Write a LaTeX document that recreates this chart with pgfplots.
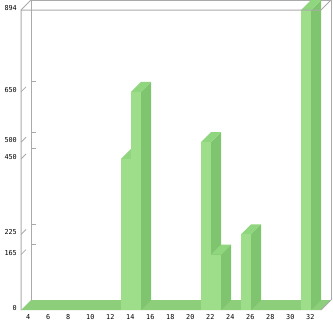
\documentclass[border=0pt]{standalone}
\usepackage{fontspec}
\setmonofont{DejaVu Sans Mono}
\usepackage{pgfplots}
\pgfplotsset{compat=1.18}
\definecolor{frontc}{RGB}{158,222,138}
\definecolor{sidec}{RGB}{127,196,110}
\definecolor{topc}{RGB}{143,214,126}
\definecolor{floorc}{RGB}{140,206,122}
\definecolor{framec}{RGB}{170,170,170}
\begin{document}
\begin{tikzpicture}
\path[use as bounding box] (-21bp,-11bp) rectangle (312bp,310bp);
\begin{axis}[
  at={(0,0)}, anchor=south west,
  scale only axis, width=310bp, height=310bp,
  xmin=3.5, xmax=34.5, ymin=0, ymax=923.8,
  clip=false,
  axis line style={draw=none},
  major tick style={draw=none},
  major tick length=0pt,
  xtick={4,6,...,32},
  ytick={0,165,225,450,500,650,894},
  /pgf/number format/assume math mode=true,
  ticklabel style={font=\ttfamily\fontsize{6.8bp}{8bp}\selectfont, inner sep=0pt},
  xticklabel style={anchor=north west, yshift=-4.6bp},
  yticklabel style={anchor=east, xshift=-4bp, yshift=2bp},
  every axis plot/.append style={mark=none},
]
% back wall frame
\addplot[draw=framec, line width=1bp] coordinates {(4.5,29.8) (4.5,923.8) (34.5,923.8) (34.5,29.8)};
% back wall ticks
\addplot[draw=framec, line width=1bp] coordinates {(4.5,679.8) (5,679.8)};
\addplot[draw=framec, line width=1bp] coordinates {(4.5,529.8) (5,529.8)};
\addplot[draw=framec, line width=1bp] coordinates {(4.5,479.8) (5,479.8)};
\addplot[draw=framec, line width=1bp] coordinates {(4.5,254.8) (5,254.8)};
\addplot[draw=framec, line width=1bp] coordinates {(4.5,194.8) (5,194.8)};
% front-left diagonal ticks
\addplot[draw=framec, line width=0.8bp] coordinates {(3.5,650) (4,664.9)};
\addplot[draw=framec, line width=0.8bp] coordinates {(3.5,500) (4,514.9)};
\addplot[draw=framec, line width=0.8bp] coordinates {(3.5,450) (4,464.9)};
\addplot[draw=framec, line width=0.8bp] coordinates {(3.5,225) (4,239.9)};
\addplot[draw=framec, line width=0.8bp] coordinates {(3.5,165) (4,179.9)};
% floor
\addplot[fill=floorc, draw=none] coordinates {(3.5,0) (33.5,0) (34.5,29.8) (4.5,29.8)} -- cycle;
\addplot[draw=framec, line width=1bp] coordinates {(33.5,0) (34.5,29.8)};
% bar 14 = 450
\addplot[fill=sidec, draw=none] coordinates {(14.5,0) (15.5,29.8) (15.5,479.8) (14.5,450)} -- cycle;
\addplot[fill=topc, draw=none] coordinates {(13.5,450) (14.5,450) (15.5,479.8) (14.5,479.8)} -- cycle;
\addplot[fill=frontc, draw=none] coordinates {(13.5,0) (14.5,0) (14.5,450) (13.5,450)} -- cycle;
% bar 15 = 650
\addplot[fill=sidec, draw=none] coordinates {(15.5,0) (16.5,29.8) (16.5,679.8) (15.5,650)} -- cycle;
\addplot[fill=topc, draw=none] coordinates {(14.5,650) (15.5,650) (16.5,679.8) (15.5,679.8)} -- cycle;
\addplot[fill=frontc, draw=none] coordinates {(14.5,0) (15.5,0) (15.5,650) (14.5,650)} -- cycle;
% bar 22 = 500
\addplot[fill=sidec, draw=none] coordinates {(22.5,0) (23.5,29.8) (23.5,529.8) (22.5,500)} -- cycle;
\addplot[fill=topc, draw=none] coordinates {(21.5,500) (22.5,500) (23.5,529.8) (22.5,529.8)} -- cycle;
\addplot[fill=frontc, draw=none] coordinates {(21.5,0) (22.5,0) (22.5,500) (21.5,500)} -- cycle;
% bar 23 = 165
\addplot[fill=sidec, draw=none] coordinates {(23.5,0) (24.5,29.8) (24.5,194.8) (23.5,165)} -- cycle;
\addplot[fill=topc, draw=none] coordinates {(22.5,165) (23.5,165) (24.5,194.8) (23.5,194.8)} -- cycle;
\addplot[fill=frontc, draw=none] coordinates {(22.5,0) (23.5,0) (23.5,165) (22.5,165)} -- cycle;
% bar 26 = 225
\addplot[fill=sidec, draw=none] coordinates {(26.5,0) (27.5,29.8) (27.5,254.8) (26.5,225)} -- cycle;
\addplot[fill=topc, draw=none] coordinates {(25.5,225) (26.5,225) (27.5,254.8) (26.5,254.8)} -- cycle;
\addplot[fill=frontc, draw=none] coordinates {(25.5,0) (26.5,0) (26.5,225) (25.5,225)} -- cycle;
% bar 32 = 894
\addplot[fill=sidec, draw=none] coordinates {(32.5,0) (33.5,29.8) (33.5,923.8) (32.5,894)} -- cycle;
\addplot[fill=topc, draw=none] coordinates {(31.5,894) (32.5,894) (33.5,923.8) (32.5,923.8)} -- cycle;
\addplot[fill=frontc, draw=none] coordinates {(31.5,0) (32.5,0) (32.5,894) (31.5,894)} -- cycle;
% front frame
\addplot[draw=framec, line width=1bp] coordinates {(3.5,0) (3.5,894) (33.5,894) (34.5,923.8)};
\addplot[draw=framec, line width=1bp] coordinates {(3.5,894) (4.5,923.8)};
\end{axis}
\end{tikzpicture}
\end{document}
